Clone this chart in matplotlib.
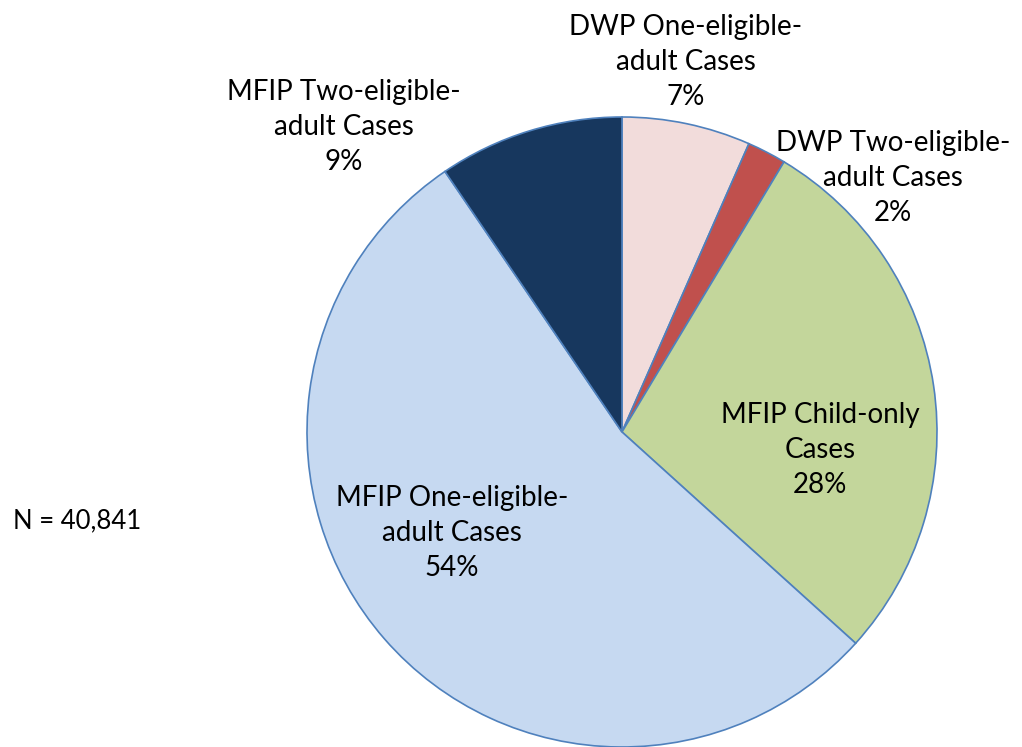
import matplotlib
matplotlib.use('Agg')
import matplotlib.pyplot as plt

# Данные круговой диаграммы (по часовой стрелке от 12 часов)
categories = ['DWP One-eligible-\nadult Cases', 'DWP Two-eligible-\nadult Cases',
              'MFIP Child-only\nCases', 'MFIP One-eligible-\nadult Cases',
              'MFIP Two-eligible-\nadult Cases']
values = [6.6, 2.0, 28.1, 53.8, 9.5]
pct_labels = ['7%', '2%', '28%', '54%', '9%']
colors = ['#F2DCDB', '#C0504D', '#C3D69B', '#C6D9F1', '#17375E']
total_n = '40,841'

plt.rcParams['font.family'] = ['Lato', 'DejaVu Sans']

fig = plt.figure(figsize=(10.22, 7.47), dpi=100)
ax = fig.add_axes([0, 0, 1, 1])

cx, cy, r = 622, 432, 315
wedges, _ = ax.pie(values, colors=colors, startangle=90, counterclock=False,
                   center=(cx, -cy), radius=r,
                   wedgeprops={'edgecolor': '#4F81BD', 'linewidth': 1.2})
# оси в пикселях (y вниз = отрицательные значения)
ax.set_xlim(0, 1022)
ax.set_ylim(-747, 0)
ax.set_aspect('equal')
ax.axis('off')

# Позиции подписей (в пикселях)
label_pos = [(686, 62), (893, 178), (820, 450), (452, 533), (344, 127)]
for cat, pct, (x, y) in zip(categories, pct_labels, label_pos):
    ax.text(x, -y, cat + '\n' + pct, ha='center', va='center',
            fontsize=20, linespacing=1.45, color='black')

ax.text(13, -521, 'N = ' + total_n, ha='left', va='center', fontsize=18.5)

fig.savefig('out.png', dpi=100)
